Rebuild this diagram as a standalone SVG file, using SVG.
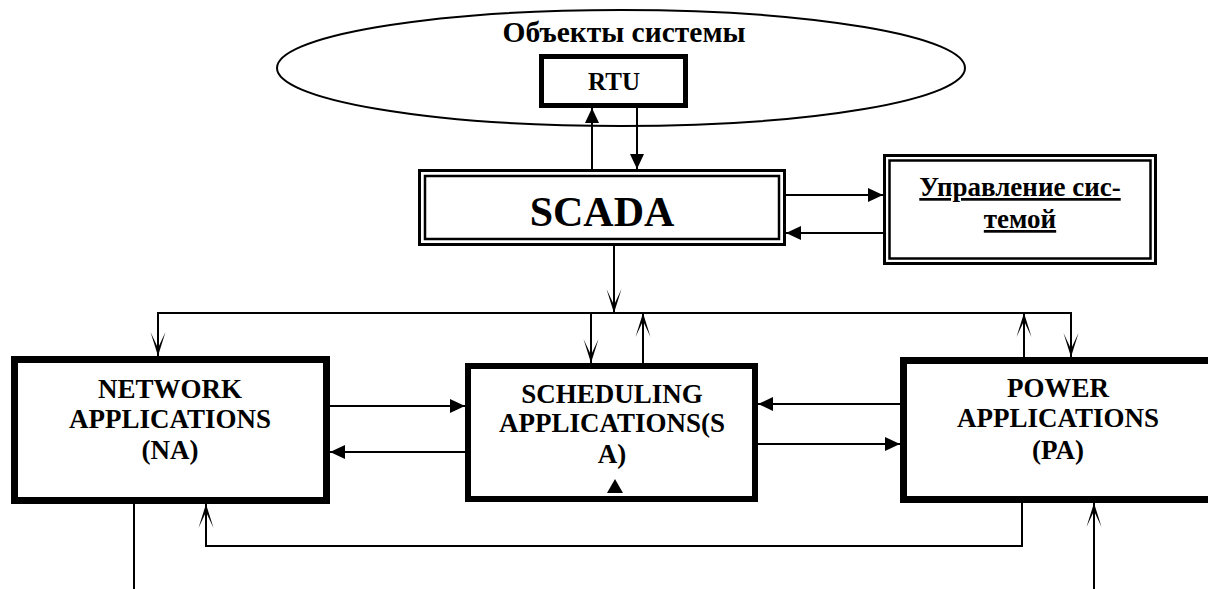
<svg xmlns="http://www.w3.org/2000/svg" width="1208" height="589" viewBox="0 0 1208 589">
  <style>
    .lbl { font-family: "Liberation Serif", "Times New Roman", serif; font-weight: bold; fill: #000; text-anchor: middle; }
    .box { fill: #fff; stroke: #000; }
    .ln { fill: none; stroke: #000; stroke-width: 2; }
  </style>
  <defs>
    <marker id="tri" viewBox="0 0 15 14" refX="15" refY="7" markerWidth="15" markerHeight="14" markerUnits="userSpaceOnUse" orient="auto">
      <path d="M0,0 L15,7 L0,14 Z" fill="#000"/>
    </marker>
    <marker id="vee" viewBox="-25 -9 26 18" refX="0" refY="0" markerWidth="26" markerHeight="18" markerUnits="userSpaceOnUse" orient="auto">
      <path d="M0,0 L-24,-7.5 L-8,0 L-24,7.5 Z" fill="#000"/>
    </marker>
  </defs>
  <rect width="1208" height="589" fill="#fff"/>

  <!-- system objects field with the RTU inside -->
  <g id="objects">
    <ellipse cx="621" cy="68" rx="344" ry="58" fill="#fff" stroke="#000" stroke-width="2"/>
    <text class="lbl" x="624" y="42" font-size="29.5">Объекты системы</text>
  </g>
  <g id="rtu">
    <rect class="box" x="541.5" y="56.5" width="144" height="49" stroke-width="5"/>
    <text class="lbl" x="614" y="90" font-size="25">RTU</text>
  </g>

  <g id="scada">
    <rect class="box" x="419.5" y="170.5" width="365" height="74" stroke-width="3"/>
    <rect fill="none" stroke="#000" x="425" y="176" width="354" height="63" stroke-width="2.5"/>
    <text class="lbl" x="602" y="226" font-size="42">SCADA</text>
  </g>

  <g id="control">
    <rect class="box" x="884.5" y="155.5" width="271" height="108" stroke-width="3"/>
    <rect fill="none" stroke="#000" x="889.5" y="160.5" width="261" height="98" stroke-width="2.5"/>
    <text class="lbl" x="1020" y="196" font-size="27" text-decoration="underline">Управление сис-</text>
    <text class="lbl" x="1020" y="228" font-size="27" text-decoration="underline">темой</text>
  </g>

  <g id="na">
    <rect class="box" x="14.5" y="359.5" width="312" height="141" stroke-width="7"/>
    <text class="lbl" x="170" y="398" font-size="27">NETWORK</text>
    <text class="lbl" x="170" y="428" font-size="27">APPLICATIONS</text>
    <text class="lbl" x="170" y="459" font-size="27">(NA)</text>
  </g>

  <g id="sa">
    <rect class="box" x="468" y="366" width="287" height="133" stroke-width="6"/>
    <text class="lbl" x="612" y="403" font-size="27">SCHEDULING</text>
    <text class="lbl" x="612" y="432" font-size="27">APPLICATIONS(S</text>
    <text class="lbl" x="612" y="463" font-size="27">A)</text>
    <polygon points="607,493 623,493 615,479" fill="#000"/>
  </g>

  <g id="pa">
    <rect class="box" x="903.5" y="360.5" width="312" height="139" stroke-width="7"/>
    <text class="lbl" x="1058" y="397" font-size="27">POWER</text>
    <text class="lbl" x="1058" y="427" font-size="27">APPLICATIONS</text>
    <text class="lbl" x="1058" y="459" font-size="27">(PA)</text>
  </g>

  <g id="connectors">
    <!-- SCADA <-> RTU -->
    <line class="ln" x1="592" y1="170" x2="592" y2="108" marker-end="url(#tri)"/>
    <line class="ln" x1="637" y1="108" x2="637" y2="169" marker-end="url(#tri)"/>
    <!-- SCADA <-> system control -->
    <line class="ln" x1="786" y1="195" x2="883" y2="195" marker-end="url(#tri)"/>
    <line class="ln" x1="883" y1="233" x2="786" y2="233" marker-end="url(#tri)"/>
    <!-- SCADA to the distribution bus -->
    <line class="ln" x1="614" y1="246" x2="614" y2="313" marker-end="url(#vee)"/>
    <!-- distribution bus -->
    <path class="ln" d="M158,356 V313 H1071 V357" />
    <line class="ln" x1="158" y1="330" x2="158" y2="356" marker-end="url(#vee)"/>
    <line class="ln" x1="1071" y1="330" x2="1071" y2="357" marker-end="url(#vee)"/>
    <line class="ln" x1="591" y1="313" x2="591" y2="363" marker-end="url(#vee)"/>
    <line class="ln" x1="643" y1="363" x2="643" y2="313" marker-end="url(#vee)"/>
    <line class="ln" x1="1024" y1="357" x2="1024" y2="313" marker-end="url(#vee)"/>
    <!-- NA <-> SA -->
    <line class="ln" x1="330" y1="406" x2="465" y2="406" marker-end="url(#tri)"/>
    <line class="ln" x1="465" y1="452" x2="330" y2="452" marker-end="url(#tri)"/>
    <!-- PA <-> SA -->
    <line class="ln" x1="900" y1="404" x2="758" y2="404" marker-end="url(#tri)"/>
    <line class="ln" x1="758" y1="444" x2="900" y2="444" marker-end="url(#tri)"/>
    <!-- PA back to NA underneath -->
    <path class="ln" d="M1022,503 V546 H206 V504" marker-end="url(#vee)"/>
    <!-- external links at the bottom -->
    <line class="ln" x1="134" y1="504" x2="134" y2="589"/>
    <line class="ln" x1="1094" y1="589" x2="1094" y2="503" marker-end="url(#vee)"/>
  </g>
</svg>
